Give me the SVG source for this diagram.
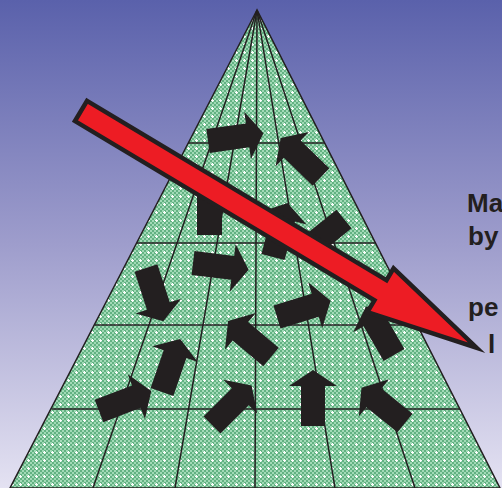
<svg xmlns="http://www.w3.org/2000/svg" xmlns:xlink="http://www.w3.org/1999/xlink" width="502" height="488" viewBox="0 0 502 488">
<defs>
<linearGradient id="bg" x1="0" y1="0" x2="0" y2="1">
<stop offset="0" stop-color="#5a61ab"/>
<stop offset="0.5" stop-color="#9e9dcc"/>
<stop offset="1" stop-color="#e4e2f2"/>
</linearGradient>
<pattern id="dots" width="8" height="8" patternUnits="userSpaceOnUse">
<rect width="8" height="8" fill="#a2dab7"/>
<path d="M2,0h2v2h-2zM6,0h2v2h-2zM0,2h2v2h-2zM4,2h2v2h-2zM2,4h2v2h-2zM6,4h2v2h-2zM0,6h2v2h-2zM4,6h2v2h-2z" fill="#62b282"/>
<path d="M3,4h3v1h-3zM4,3h1v3h-1z" fill="#ffffff"/>
</pattern>
<path id="ba" d="M0,-12 L40,-12 L40,-24 L56,0 L40,24 L40,12 L0,12 Z"/>
<style>
.grid{stroke:#231f20;stroke-width:1.5;fill:none}
.blk{fill:#231f20}
.txt{font-family:"Liberation Sans",Arial,sans-serif;font-weight:bold;font-size:26px;fill:#231f20}
</style>
</defs>
<rect width="502" height="488" fill="url(#bg)"/>
<g id="pyramid">
<polygon points="257,10 10,488 500,488" fill="url(#dots)" stroke="#231f20" stroke-width="1.5"/>
<g class="grid">
<line x1="188" y1="143" x2="325" y2="143"/>
<line x1="137" y1="243" x2="376" y2="243"/>
<line x1="95" y1="325" x2="417" y2="325"/>
<line x1="52" y1="409" x2="460" y2="409"/>
<line x1="257" y1="10" x2="93" y2="488"/>
<line x1="257" y1="10" x2="175" y2="488"/>
<line x1="257" y1="10" x2="255" y2="488"/>
<line x1="257" y1="10" x2="335" y2="488"/>
<line x1="257" y1="10" x2="415" y2="488"/>
</g>
</g>
<g id="small-arrows" class="blk">
<use xlink:href="#ba" transform="translate(208,141) rotate(-8)"/>
<use xlink:href="#ba" transform="translate(321,177) rotate(224)"/>
<polygon points="197,180 222,180 222,235 197,235"/>
<use xlink:href="#ba" transform="translate(273,257) rotate(-75)"/>
<use xlink:href="#ba" transform="translate(344,219) rotate(141)"/>
<use xlink:href="#ba" transform="translate(193,263) rotate(7)"/>
<use xlink:href="#ba" transform="translate(146,268) rotate(72)"/>
<use xlink:href="#ba" transform="translate(277,317) rotate(-17)"/>
<use xlink:href="#ba" transform="translate(394,355) rotate(240)"/>
<use xlink:href="#ba" transform="translate(162,392) rotate(-71)"/>
<use xlink:href="#ba" transform="translate(271,357) rotate(220)"/>
<use xlink:href="#ba" transform="translate(99,411) rotate(-21)"/>
<use xlink:href="#ba" transform="translate(212,425) rotate(-45)"/>
<use xlink:href="#ba" transform="translate(313,426) rotate(-90)"/>
<use xlink:href="#ba" transform="translate(405,423) rotate(219)"/>
</g>
<g id="red-arrow" transform="translate(81,111) rotate(30.9)">
<polygon points="0,-11.75 349,-11.75 349,-25.5 461,0 349,25.5 349,11.75 0,11.75" fill="#ed1c24" stroke="#231f20" stroke-width="4.5" stroke-miterlimit="10"/>
</g>
<g id="label" class="txt">
<text x="467" y="212">Ma</text>
<text x="468" y="245">by</text>
<text x="468" y="316">pe</text>
<text x="488" y="353">l</text>
</g>
</svg>
